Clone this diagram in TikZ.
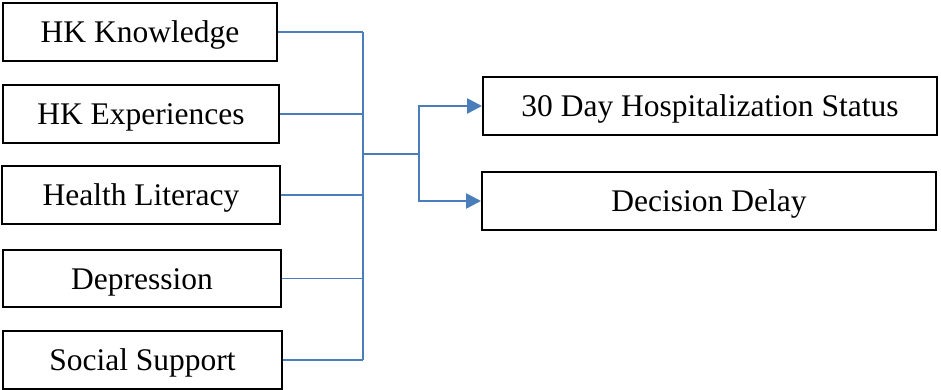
\documentclass[tikz,border=0pt]{standalone}
\usepackage{fontspec}
\setmainfont{Liberation Serif}
\usetikzlibrary{arrows.meta}
\definecolor{linkblue}{RGB}{74,126,187}
\tikzset{
  factor/.style={draw=black, line width=2pt, rectangle, minimum height=58pt,
    inner sep=0pt, text height=21.5pt, text depth=0pt,
    font=\fontsize{31.5}{36}\selectfont},
  feed/.style={draw=linkblue, line width=1.7pt},
  outflow/.style={draw=linkblue, line width=2.6pt,
    -{Triangle[length=15pt, width=15pt]}},
}
\begin{document}
\begin{tikzpicture}[x=1pt, y=-1pt]
  \useasboundingbox (0,0) rectangle (941,390);

  % predictors
  \node[factor, minimum width=274pt] (know) at (140,32) {HK Knowledge};
  \node[factor, minimum width=276pt] (exp)  at (141,114) {HK Experiences};
  \node[factor, minimum width=278pt] (lit)  at (141,195) {Health Literacy};
  \node[factor, minimum width=278pt, minimum height=57pt] (dep) at (142,278.5) {Depression};
  \node[factor, minimum width=279pt] (soc)  at (142.5,360) {Social Support};

  % outcomes
  \node[factor, minimum width=454pt] (hosp) at (710,106) {30 Day Hospitalization Status};
  \node[factor, minimum width=454pt] (delay) at (709,201) {Decision Delay};

  % collecting bus and split point
  \coordinate (bus) at (363,0);
  \coordinate (mid) at (363,154);
  \coordinate (split) at (419,154);

  \foreach \n in {know,exp,lit,dep,soc}
    \draw[feed] (\n.east) -- (bus |- \n.east);
  \draw[feed] (bus |- know.east) -- (bus |- soc.east);
  \draw[feed] (mid) -- (split);

  \draw[outflow] (split) |- (hosp.west);
  \draw[outflow] (split) |- (delay.west);
\end{tikzpicture}
\end{document}
